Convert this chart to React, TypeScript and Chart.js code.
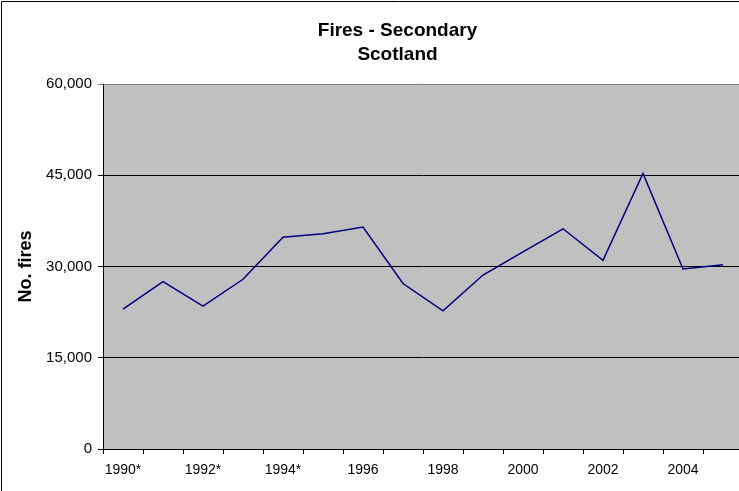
import React, { useEffect, useRef } from "react";
import { Chart, registerables } from "chart.js";

Chart.register(...registerables);

const years: string[] = [
  "1990*", "1991*", "1992*", "1993*", "1994*", "1995", "1996", "1997",
  "1998", "1999", "2000", "2001", "2002", "2003", "2004", "2005",
];
const secondaryFires: number[] = [
  23000, 27500, 23500, 27900, 34800, 35400, 36500, 27200,
  22700, 28600, 32400, 36200, 31000, 45300, 29600, 30300,
];
const titleLines: string[] = ["Fires - Secondary", "Scotland"];
const yAxisTitle = "No. fires";
const yMin = 0;
const yMax = 60000;
const yStep = 15000;

const FONT = "'Liberation Sans', Arial, sans-serif";
const CANVAS_W = 795;

const framePlugin = {
  id: "frameAndPlot",
  beforeDraw(chart: any) {
    const { ctx, chartArea, width, height } = chart;
    ctx.save();
    ctx.fillStyle = "#ffffff";
    ctx.fillRect(0, 0, width, height);
    ctx.fillStyle = "#C0C0C0";
    ctx.fillRect(chartArea.left, chartArea.top, chartArea.right - chartArea.left, chartArea.bottom - chartArea.top);
    ctx.strokeStyle = "#000000";
    ctx.lineWidth = 1;
    ctx.beginPath();
    ctx.moveTo(1.5, height + 5);
    ctx.lineTo(1.5, 1.5);
    ctx.lineTo(width + 5, 1.5);
    ctx.stroke();
    ctx.restore();
  },
};

export default function App() {
  const ref = useRef<HTMLCanvasElement | null>(null);

  useEffect(() => {
    if (!ref.current) return;
    const chart = new Chart(ref.current, {
      type: "line",
      data: {
        labels: years,
        datasets: [
          {
            label: "Secondary fires",
            data: secondaryFires,
            borderColor: "#000080",
            borderWidth: 1.5,
            pointRadius: 0,
            fill: false,
            tension: 0,
            yAxisID: "y",
          },
        ],
      },
      options: {
        responsive: false,
        animation: false,
        layout: { padding: 0 },
        plugins: {
          legend: { display: false },
          tooltip: { enabled: false },
          title: {
            display: true,
            text: titleLines,
            color: "#000",
            font: { family: FONT, size: 19, weight: "bold", lineHeight: 1.2632 },
            padding: { top: 19, bottom: 17 },
          },
        },
        scales: {
          x: {
            offset: true,
            afterFit: (s: any) => { s.height = 42; },
            grid: {
              offset: true,
              drawOnChartArea: false,
              drawTicks: true,
              tickLength: 5,
              color: "#000",
            },
            border: { display: true, color: "#000", width: 1 },
            ticks: {
              autoSkip: false,
              maxRotation: 0,
              padding: 8,
              color: "#000",
              font: { family: FONT, size: 14 },
              callback: (_v: any, i: number) => (i % 2 === 0 ? years[i] : ""),
            },
          },
          y: {
            min: yMin,
            max: yMax,
            afterFit: (s: any) => { s.width = 103; },
            grid: {
              color: (c: any) => (c.tick && c.tick.value === yMax ? "#808080" : "#000"),
              tickLength: 5,
              drawTicks: true,
            },
            border: { display: true, color: "#000", width: 1 },
            ticks: {
              stepSize: yStep,
              padding: 6,
              color: "#000",
              font: { family: FONT, size: 15 },
              callback: (v: any) => Number(v).toLocaleString("en-US"),
            },
            title: {
              display: true,
              text: yAxisTitle,
              color: "#000",
              font: { family: FONT, size: 18, weight: "bold" },
              padding: { top: 15, bottom: 0 },
            },
          },
          yRight: {
            position: "right",
            display: true,
            afterFit: (s: any) => { s.width = CANVAS_W - 743; },
            grid: { display: false, drawTicks: false },
            border: { display: false },
            ticks: { display: false },
          },
        },
      },
      plugins: [framePlugin],
    });
    return () => chart.destroy();
  }, []);

  return (
    <div style={{ position: "fixed", left: 0, top: 0, width: 739, height: 491, overflow: "hidden", background: "#fff" }}>
      <canvas ref={ref} width={CANVAS_W} height={491} style={{ display: "block" }} />
    </div>
  );
}
